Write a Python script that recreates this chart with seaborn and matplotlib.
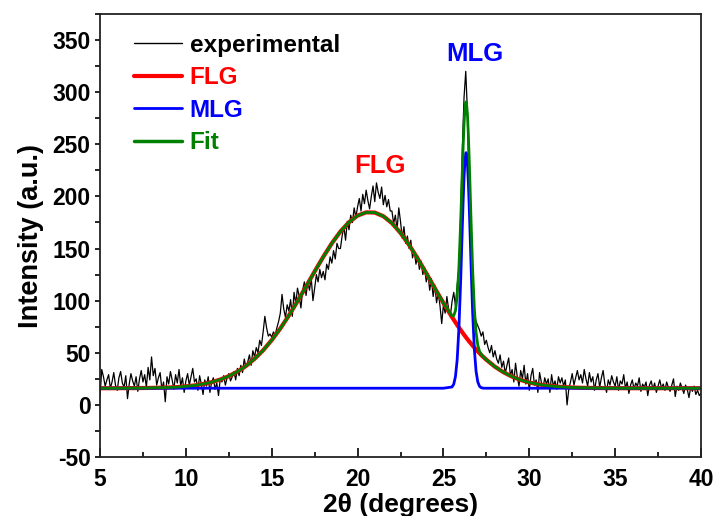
import numpy as np
import pandas as pd
import matplotlib
matplotlib.use("Agg")
import matplotlib.pyplot as plt
import seaborn as sns
from matplotlib.ticker import MultipleLocator

# ---------------- data ----------------
exp_start, exp_stop = 5.0, 40.0
exp_intensity = [
    8, 34, 27, 18, 24, 29, 16, 22, 31, 19,
    14, 26, 32, 21, 17, 28, 6, 20, 30, 23,
    18, 27, 13, 25, 33, 22, 29, 17, 36, 24,
    46, 28, 35, 19, 26, 31, 15, 22, 3, 27,
    20, 32, 24, 15, 29, 21, 34, 18, 26, 12,
    23, 30, 19, 27, 35, 22, 25, 14, 28, 20,
    10, 24, 18, 27, 12, 22, 26, 15, 21, 9,
    25, 22, 28, 19, 26, 30, 23, 27, 32, 24,
    35, 28, 38, 31, 44, 36, 41, 48, 38, 52,
    46, 55, 50, 62, 57, 70, 85, 74, 66, 68,
    65, 70, 67, 74, 80, 88, 106, 92, 84, 96,
    90, 101, 85, 108, 97, 112, 104, 93, 110, 118,
    105, 118, 110, 122, 100, 112, 125, 118, 130, 122,
    128, 120, 135, 130, 142, 136, 148, 140, 155, 150,
    150, 162, 171, 158, 176, 168, 182, 175, 189, 180,
    190, 198, 186, 202, 193, 206, 196, 188, 200, 210,
    195, 213, 204, 198, 209, 192, 201, 190, 197, 186,
    186, 174, 182, 168, 189, 176, 160, 171, 155, 162,
    150, 158, 141, 148, 135, 143, 130, 138, 125, 132,
    118, 126, 110, 121, 104, 115, 98, 108, 95, 78,
    96, 88, 104, 92, 85, 99, 108, 95, 115, 130,
    180, 245, 295, 320, 280, 200, 140, 105, 88, 80,
    76, 72, 66, 70, 58, 62, 55, 50, 57, 46,
    52, 44, 40, 48, 36, 42, 30, 38, 45, 28,
    34, 22, 40, 27, 18, 33, 25, 38, 20, 30,
    14, 28, 35, 19, 24, 12, 31, 22, 16, 26,
    20, 25, 12, 29, 18, 23, 15, 27, 21, 26,
    18, 24, 0, 15, 22, 30, 19, 26, 33, 24,
    29, 21, 34, 25, 18, 31, 22, 27, 14, 24,
    30, 17, 26, 33, 20, 12, 24, 19, 28, 22,
    18, 27, 14, 23, 20, 29, 16, 22, 11, 19,
    24, 15, 21, 18, 26, 13, 20, 17, 22, 9,
    19, 23, 15, 21, 12, 18, 24, 16, 20, 14,
    22, 17, 13, 19, 25, 8, 18, 14, 21, 16,
    11, 19, 15, 7, 17, 13, 18, 10, 14, 9,
    11,
]

fit_angle = [
    5.0, 5.5, 6.0, 6.5, 7.0, 7.5, 8.0, 8.5, 9.0, 9.5, 10.0, 10.5, 11.0, 11.5,
    12.0, 12.5, 13.0, 13.5, 14.0, 14.5, 15.0, 15.5, 16.0, 16.5, 17.0, 17.5,
    18.0, 18.5, 19.0, 19.5, 20.0, 20.5, 21.0, 21.5, 22.0, 22.5, 23.0, 23.5,
    24.0, 24.5, 25.0,
    25.5, 25.6, 25.7, 25.8, 25.9, 26.0, 26.05, 26.1, 26.15, 26.2, 26.25, 26.3,
    26.32, 26.35, 26.4, 26.45, 26.5, 26.55, 26.6, 26.7, 26.8, 26.9, 27.0, 27.1,
    27.2, 27.3, 27.4, 27.5,
    28.0, 28.5, 29.0, 29.5, 30.0, 30.5, 31.0, 31.5, 32.0, 32.5, 33.0, 33.5,
    34.0, 34.5, 35.0, 35.5, 36.0, 36.5, 37.0, 37.5, 38.0, 38.5, 39.0, 39.5, 40.0,
]

flg_left = [
    16.0, 16.0, 16.0, 16.1, 16.1, 16.2, 16.3, 16.5, 16.7, 17.1, 17.8, 18.7, 20.0,
    21.8, 24.3, 27.6, 31.9, 37.3, 44.2, 52.4, 62.2, 73.3, 85.8, 99.4, 113.6,
    128.0, 142.0, 155.0, 166.3, 175.3, 181.6, 184.7, 184.5, 181.0, 174.4, 165.0,
    153.5, 140.4, 126.3, 111.9, 97.7,
]
flg_mid = [
    84.2, 81.7, 79.2, 76.7, 74.3, 71.9, 70.8, 69.6, 68.5, 67.3, 66.2, 65.1,
    64.7, 64.0, 63.0, 61.9, 60.9, 59.9, 58.9, 56.9, 55.0, 53.1, 51.3, 49.6,
    47.9, 46.3, 44.8, 43.3,
]
flg_right = [
    36.6, 31.3, 27.1, 23.9, 21.5, 19.8, 18.6, 17.7, 17.1, 16.7, 16.4, 16.3,
    16.2, 16.1, 16.1, 16.0, 16.0, 16.0, 16.0, 16.0, 16.0, 16.0, 16.0, 16.0, 16.0,
]
mlg_mid = [
    17.2, 19.9, 27.2, 43.3, 73.0, 117.5, 143.9, 170.8, 196.3, 218.0, 233.5,
    241.3, 242.0, 240.4, 231.0, 214.0, 191.5, 165.5, 138.5, 89.1, 53.4, 32.3,
    22.1, 17.9, 16.5, 16.1, 16.0, 16.0,
]
mlg_flat_left = [16.0] * 41
mlg_flat_right = [16.0] * 25
fit_mid = [
    85.4, 85.6, 90.4, 104.0, 131.3, 173.4, 198.7, 224.4, 248.8, 269.3, 283.7,
    290.4, 290.7, 288.4, 278.0, 259.9, 236.4, 209.4, 181.4, 130.0, 92.4, 69.4,
    57.4, 51.5, 48.4, 46.4, 44.8, 43.3,
]

flg_values = flg_left + flg_mid + flg_right
mlg_values = mlg_flat_left + mlg_mid + mlg_flat_right
fit_values = flg_left + fit_mid + flg_right

x_ticks = [5, 10, 15, 20, 25, 30, 35, 40]
y_ticks = [-50, 0, 50, 100, 150, 200, 250, 300, 350]

# ---------------- style ----------------
sns.set_style("white")
plt.rcParams["font.family"] = ["Liberation Sans", "DejaVu Sans"]
plt.rcParams["font.weight"] = "bold"
plt.rcParams["axes.unicode_minus"] = False
for key in ["text.color", "axes.labelcolor", "xtick.color", "ytick.color"]:
    plt.rcParams[key] = "black"

exp_df = pd.DataFrame({
    "angle": np.linspace(exp_start, exp_stop, len(exp_intensity)),
    "intensity": exp_intensity,
})
fit_df = pd.DataFrame({
    "angle": fit_angle, "FLG": flg_values, "MLG": mlg_values, "Fit": fit_values,
})

fig, ax = plt.subplots(figsize=(7.15, 5.16), dpi=100)
fig.subplots_adjust(left=0.1399, right=0.9804, top=0.9729, bottom=0.1143)

sns.lineplot(data=exp_df, x="angle", y="intensity", ax=ax, color="black",
             lw=0.9, estimator=None, label="experimental")
sns.lineplot(data=fit_df, x="angle", y="FLG", ax=ax, color="#ff0000",
             lw=3.0, estimator=None, label="FLG")
sns.lineplot(data=fit_df, x="angle", y="MLG", ax=ax, color="#0000ff",
             lw=2.0, estimator=None, label="MLG")
sns.lineplot(data=fit_df, x="angle", y="Fit", ax=ax, color="#008000",
             lw=2.0, estimator=None, label="Fit")

ax.set_xlim(5, 40)
ax.set_ylim(-50, 375)
ax.set_xticks(x_ticks)
ax.set_yticks(y_ticks)
ax.xaxis.set_minor_locator(MultipleLocator(2.5))
ax.yaxis.set_minor_locator(MultipleLocator(25))
ax.tick_params(axis="x", which="both", bottom=True, top=False)
ax.tick_params(axis="y", which="both", left=True, right=False)
ax.tick_params(axis="x", which="major", direction="in", length=6.7, width=1.2,
               labelsize=16.5, pad=8, colors="black")
ax.tick_params(axis="x", which="minor", direction="in", length=3.6, width=1.2,
               colors="black")
ax.tick_params(axis="y", which="both", direction="out", length=3.8, width=1.2,
               labelsize=16.5, pad=3, colors="black")
for lab in ax.get_xticklabels() + ax.get_yticklabels():
    lab.set_fontweight("bold")
for sp in ax.spines.values():
    sp.set_linewidth(1.3)
    sp.set_color("#222222")

ax.set_xlabel("2\u03b8 (degrees)", fontsize=19, fontweight="bold", labelpad=1)
ax.set_ylabel("Intensity (a.u.)", fontsize=19.5, fontweight="bold", labelpad=6)

leg = ax.legend(loc="upper left", bbox_to_anchor=(0.056, 0.955), frameon=False,
                fontsize=17.5, handlelength=2.0, handletextpad=0.3,
                labelspacing=0.39, borderaxespad=0.0, borderpad=0.0)
for txt, col in zip(leg.get_texts(), ["black", "#ff0000", "#0000ff", "#008000"]):
    txt.set_color(col)
    txt.set_fontweight("bold")
for line, w in zip(leg.get_lines(), [1.0, 3.0, 2.0, 2.5]):
    line.set_linewidth(w)

ax.text(21.3, 229, "FLG", color="#ff0000", fontsize=18.5, fontweight="bold",
        ha="center", va="center")
ax.text(26.85, 337, "MLG", color="#0000ff", fontsize=18.5, fontweight="bold",
        ha="center", va="center")

fig.savefig("out.png", dpi=100)
